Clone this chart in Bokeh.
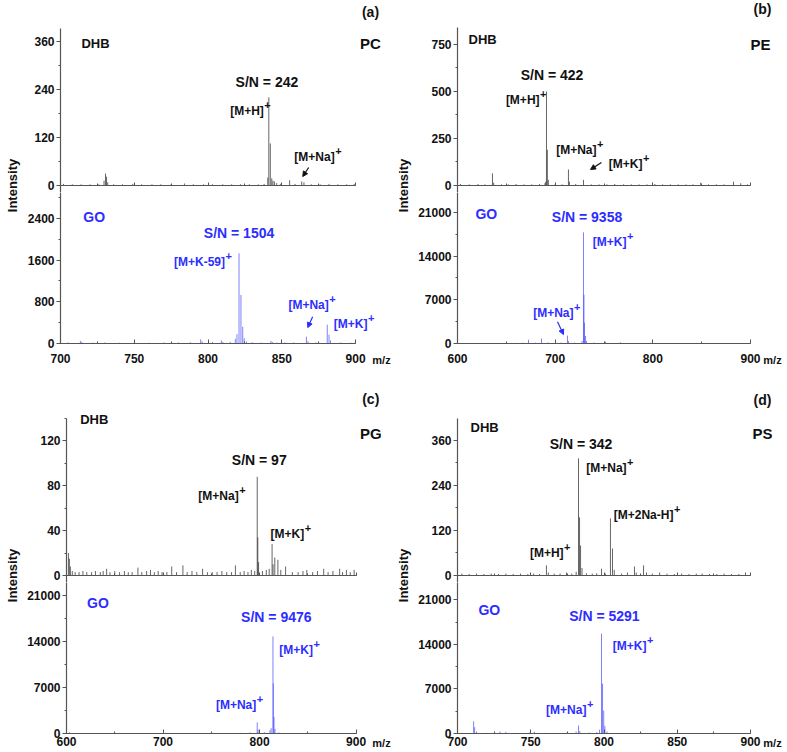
from bokeh.plotting import figure
from bokeh.layouts import row, column
from bokeh.models import (Range1d, SingleIntervalTicker, Label, Arrow, NormalHead,
                          ColumnDataSource, CustomJSTickFormatter)
from bokeh.embed import file_html
from bokeh.resources import INLINE

# ---------------- data ----------------
# Panel (a) PC
a_dhb_mz = [702, 708, 714, 720, 726, 729.5, 730.5, 731.2, 732, 736, 742, 749, 755, 762, 768, 775,
            784, 790, 797, 803, 810, 816, 822, 828, 834, 838, 840.5, 841.2, 842.2, 843.2, 844, 845,
            846.5, 849, 855.3, 859, 863.5, 865, 870, 876, 882, 888, 894, 899]
a_dhb_int = [4, 3, 3, 3, 3, 12, 30, 22, 8, 3, 3, 4, 3, 3, 3, 3,
             5, 3, 3, 3, 3, 3, 3, 3, 3, 4, 20, 220, 105, 18, 12, 10,
             6, 4, 13, 4, 10, 8, 3, 3, 4, 3, 3, 4]
a_go_mz = [705, 713.5, 714.5, 722, 730, 740, 750, 760, 770, 780, 788, 795, 796, 803, 809, 810,
           815, 818.5, 819.6, 821, 822.3, 823.5, 824.5, 826, 830, 836, 842.6, 843.6, 846.7, 852,
           858, 866.7, 867.7, 873, 880.8, 882, 883, 890, 897]
a_go_int = [20, 50, 30, 20, 20, 15, 15, 15, 20, 20, 25, 80, 40, 30, 60, 30,
            30, 90, 180, 1730, 930, 320, 100, 40, 25, 20, 50, 30, 20, 20,
            20, 130, 40, 20, 360, 170, 60, 20, 15]

# Panel (b) PE
b_dhb_mz = [603, 612, 621, 628, 635.8, 637, 645, 652, 660, 668, 676, 684, 689.5, 690.3, 691.1, 692,
            693, 700, 707, 713.6, 714.6, 721, 729, 737, 745, 753, 761, 770, 778, 786, 794, 802,
            810, 818, 826, 834, 841, 849, 857, 865, 873, 882.6, 890, 897]
b_dhb_int = [8, 6, 8, 6, 65, 15, 6, 6, 8, 6, 6, 8, 12, 20, 500, 190,
             30, 6, 6, 85, 20, 8, 30, 6, 6, 6, 8, 6, 6, 6, 6, 8,
             6, 6, 6, 6, 6, 15, 6, 6, 6, 20, 12, 6]
b_go_mz = [606, 620, 635, 650, 660, 667, 672.7, 680, 686, 693, 700, 706, 712.6, 713.6, 720, 727.5,
           729, 729.5, 730, 731, 732, 740, 751.5, 760, 767, 780, 795, 810, 830, 850, 870, 890]
b_go_int = [60, 60, 60, 80, 100, 150, 600, 150, 800, 150, 100, 150, 1270, 400, 150, 400,
            17800, 7800, 3340, 1200, 400, 150, 300, 100, 200, 80, 60, 60, 60, 60, 60, 60]

# Panel (c) PG
c_dhb_mz = [602, 603, 604, 606, 609, 613, 617, 621, 626, 630, 635, 638, 641.6, 645, 650, 655,
            660, 664, 668, 674, 678, 683, 687, 691, 695, 699, 704, 709, 714, 720.6, 725, 730,
            735, 741, 746, 751, 756, 761, 766, 771, 775, 780, 784, 788, 791.5, 795, 797.6, 798.2,
            799, 803, 807, 810, 813, 814, 815.8, 819, 822, 827, 834, 840, 845, 849, 855, 860,
            866.5, 871, 876, 883, 886, 890, 894, 898]
c_dhb_int = [20, 15, 8, 4, 3, 3, 4, 3, 3, 4, 3, 4, 6, 3, 4, 3,
             4, 3, 3, 7, 3, 4, 5, 3, 4, 3, 3, 8, 3, 9, 3, 4,
             3, 6, 3, 3, 3, 4, 3, 3, 9, 3, 4, 3, 5, 4, 88, 34,
             12, 4, 5, 6, 28, 10, 16, 14, 5, 8, 3, 3, 4, 5, 3, 4,
             6, 3, 4, 6, 3, 5, 3, 5]
c_go_mz = [603, 615, 640, 660, 680, 700, 720, 740, 760, 780, 790, 797.6, 798.5, 805, 810.8, 812,
           813.9, 814.3, 815, 816, 820, 830, 850, 870, 890]
c_go_int = [200, 60, 60, 60, 60, 60, 60, 60, 80, 100, 150, 1670, 600, 200, 500, 800,
            14750, 7600, 2500, 700, 150, 80, 60, 60, 60]

# Panel (d) PS
d_dhb_mz = [703, 708, 713, 718, 723, 728, 733, 738, 743, 748, 752, 756, 760.7, 762, 766, 770,
            774.4, 778, 781, 782.6, 783.3, 784, 785, 788, 792, 795, 798.3, 801, 804.4, 805.8, 807, 812,
            816, 820.8, 822, 827, 829, 833, 838, 843, 848, 853, 858, 863, 867, 872, 877, 882,
            887, 892, 896.6]
d_dhb_int = [5, 4, 5, 4, 5, 4, 5, 4, 5, 4, 5, 4, 27, 8, 5, 5,
             8, 5, 10, 312, 155, 80, 20, 6, 5, 6, 18, 5, 152, 72, 15, 5,
             8, 24, 8, 27, 8, 5, 8, 5, 4, 5, 4, 5, 5, 4, 4, 5,
             4, 4, 8]
d_go_mz = [703, 711, 711.7, 713, 720, 729, 733, 740, 749, 752.5, 760, 770, 775, 781, 782.6, 783.5,
           790, 795, 796.9, 798.3, 799, 799.8, 800.6, 802, 810, 820, 840, 860, 880, 898]
d_go_int = [100, 1900, 1000, 300, 100, 300, 250, 100, 150, 300, 100, 100, 150, 300, 1250, 400,
            150, 200, 600, 15700, 7850, 3600, 1200, 300, 100, 80, 60, 60, 60, 60]

# axis extents / tick intervals
a_x = (700, 900); a_xstep = 50; a_top_y = 392; a_top_step = 120; a_bot_y = 3030; a_bot_step = 800
b_x = (600, 900); b_xstep = 100; b_top_y = 840; b_top_step = 250; b_bot_y = 25300; b_bot_step = 7000
c_x = (600, 900); c_xstep = 100; c_top_y = 140; c_top_step = 40; c_bot_y = 24000; c_bot_step = 7000
d_x = (700, 900); d_xstep = 50; d_top_y = 418; d_top_step = 120; d_bot_y = 24850; d_bot_step = 7000

# ---------------- style / layout ----------------
FONT = "Liberation Sans"
BLACK = "#111111"
BLUE = "#2d2dff"
AXIS = "#555555"

# left column: y axis at 59 px, x axis drawn over 296 px, figure 24..393
# right column: y axis at 457 px, x axis drawn over 293 px, figure 413..787
LW, LMBL, LAXPX, LMBR = 369, 35, 296, 12
RW, RMBL, RAXPX, RMBR = 374, 44, 293, 15
GAP = 7  # px of the upper figure kept below its zero line (room for the "0" tick label)


def style_axes(p, xr, xstep, ystep):
    p.grid.visible = False
    p.outline_line_color = None
    p.background_fill_color = "white"
    p.border_fill_color = "white"
    p.xaxis.bounds = xr
    p.xaxis.ticker = SingleIntervalTicker(interval=xstep, num_minor_ticks=2)
    p.yaxis.ticker = SingleIntervalTicker(interval=ystep, num_minor_ticks=2)
    for ax in (p.xaxis, p.yaxis):
        ax.axis_line_color = AXIS
        ax.axis_line_width = 1.2
        ax.major_tick_line_color = AXIS
        ax.minor_tick_line_color = AXIS
        ax.major_label_text_font = FONT
        ax.major_label_text_font_style = "bold"
        ax.major_label_text_font_size = "12px"
        ax.major_label_text_color = BLACK
    p.yaxis.major_tick_out = 4
    p.yaxis.major_tick_in = 0
    p.yaxis.minor_tick_out = 2
    p.yaxis.minor_tick_in = 0
    p.yaxis.major_label_standoff = 2
    p.xaxis.major_tick_out = 0
    p.xaxis.minor_tick_out = 0


def top_fig(w, h, mbl, mbr, ax_w, xr, xstep, ytop, ystep, y_span):
    # upper spectrum: its x axis sits at intensity 0, GAP px above the figure bottom
    x_per_px = (xr[1] - xr[0]) / ax_w
    y_per_px = ytop / y_span
    y0 = -GAP * y_per_px
    p = figure(width=w, height=h, x_range=Range1d(xr[0], xr[0] + (w - mbl - mbr) * x_per_px),
               y_range=Range1d(y0, (h - GAP) * y_per_px),
               toolbar_location=None, output_backend="svg",
               min_border_left=mbl, min_border_right=mbr, min_border_top=0, min_border_bottom=0)
    style_axes(p, xr, xstep, ystep)
    p.yaxis.bounds = (y0, ytop)
    p.xaxis.fixed_location = 0
    p.xaxis.major_tick_in = 3
    p.xaxis.minor_tick_in = 2
    p.xaxis.formatter = CustomJSTickFormatter(code="return ''")
    p.xaxis.major_label_standoff = 0
    return p


def bot_fig(w, h, mbl, mbr, ax_w, xr, xstep, ytop, ystep, y_span, mbb, standoff):
    x_per_px = (xr[1] - xr[0]) / ax_w
    frame_h = h - mbb
    p = figure(width=w, height=h, x_range=Range1d(xr[0], xr[0] + (w - mbl - mbr) * x_per_px),
               y_range=Range1d(0, ytop * frame_h / y_span),
               toolbar_location=None, output_backend="svg",
               min_border_left=mbl, min_border_right=mbr, min_border_top=0, min_border_bottom=mbb)
    style_axes(p, xr, xstep, ystep)
    p.xaxis.major_tick_in = 4
    p.xaxis.minor_tick_in = 2
    p.xaxis.major_label_standoff = standoff
    p.xaxis.axis_label = "m/z"
    p.xaxis.axis_label_align = "end"
    p.xaxis.axis_label_standoff = -12
    p.xaxis.axis_label_text_font = FONT
    p.xaxis.axis_label_text_font_style = "bold"
    p.xaxis.axis_label_text_font_size = "11px"
    p.xaxis.axis_label_text_color = BLACK
    return p


def spectrum(p, mz, inten, color, alpha):
    src = ColumnDataSource(dict(mz=mz, inten=inten))
    p.segment(x0="mz", y0=0, x1="mz", y1="inten", source=src, line_color=color,
              line_alpha=alpha, line_width=1)


def txt(p, x, y, s, color=BLACK, size="12px", align="center"):
    p.add_layout(Label(x=x, y=y, text=s, text_font=FONT, text_font_style="bold",
                       text_font_size=size, text_color=color, text_align=align,
                       text_baseline="middle"))


def ion(p, x, y, s, color=BLACK):
    txt(p, x, y, s, color, "12px", "right")
    p.add_layout(Label(x=x, y=y, text="+", text_font=FONT, text_font_style="bold",
                       text_font_size="11px", text_color=color, text_align="left",
                       text_baseline="middle", x_offset=0.5, y_offset=6))


def arrow(p, x0, y0, x1, y1, color=BLACK):
    p.add_layout(Arrow(end=NormalHead(size=5, fill_color=color, line_color=color),
                       x_start=x0, y_start=y0, x_end=x1, y_end=y1,
                       line_color=color, line_width=1.2))


def intensity_fig(w, h, xc, yc):
    f = figure(width=w, height=h, x_range=Range1d(0, w), y_range=Range1d(0, h),
               toolbar_location=None, output_backend="svg", min_border=0)
    f.axis.visible = False
    f.grid.visible = False
    f.outline_line_color = None
    f.add_layout(Label(x=xc, y=yc, text="Intensity", angle=90, angle_units="deg",
                       text_font=FONT, text_font_style="bold", text_font_size="13px",
                       text_color=BLACK, text_align="center", text_baseline="middle"))
    return f


# ---- panel (a) ----
at = top_fig(LW, 185 + GAP, LMBL, LMBR, LAXPX, a_x, a_xstep, a_top_y, a_top_step, 157)
spectrum(at, a_dhb_mz, a_dhb_int, "#333333", 0.75)
txt(at, 714.2, 355, "DHB", BLACK, "13px", "left")
txt(at, 839.9, 257.5, "S/N = 242", BLACK, "14px")
ion(at, 837.8, 187, "[M+H]")
ion(at, 885.8, 70, "[M+Na]")
arrow(at, 868.2, 45, 864.2, 22.5)
txt(at, 910.1, 355, "PC", BLACK, "15px")
txt(at, 910.1, 432, "(a)", BLACK, "14px")

ab = bot_fig(LW, 183 - GAP, LMBL, LMBR, LAXPX, a_x, a_xstep, a_bot_y, a_bot_step, 159, 24, 10)
spectrum(ab, a_go_mz, a_go_int, "#4a4aff", 0.7)
txt(ab, 715.5, 2419, "GO", BLUE, "14px", "left")
txt(ab, 821, 2115, "S/N = 1504", BLUE, "14px")
ion(ab, 811.5, 1562, "[M+K-59]", BLUE)
ion(ab, 881.8, 743, "[M+Na]", BLUE)
arrow(ab, 870.9, 514, 867.6, 305, BLUE)
ion(ab, 908.1, 381, "[M+K]", BLUE)

# ---- panel (b) ----
bt = top_fig(RW, 185 + GAP, RMBL, RMBR, RAXPX, b_x, b_xstep, b_top_y, b_top_step, 158)
spectrum(bt, b_dhb_mz, b_dhb_int, "#333333", 0.75)
txt(bt, 611.3, 777, "DHB", BLACK, "13px", "left")
txt(bt, 696.8, 585, "S/N = 422", BLACK, "14px")
ion(bt, 684, 457, "[M+H]")
ion(bt, 742.3, 191, "[M+Na]")
ion(bt, 789.4, 112, "[M+K]")
arrow(bt, 747.4, 122, 736.2, 85)
txt(bt, 910.2, 750, "PE", BLACK, "15px")
txt(bt, 912.3, 936, "(b)", BLACK, "14px")

bb = bot_fig(RW, 183 - GAP, RMBL, RMBR, RAXPX, b_x, b_xstep, b_bot_y, b_bot_step, 159, 24, 10)
spectrum(bb, b_go_mz, b_go_int, "#4a4aff", 0.7)
txt(bb, 618.4, 20670, "GO", BLUE, "14px", "left")
txt(bb, 732.6, 20190, "S/N = 9358", BLUE, "14px")
ion(bb, 773, 16220, "[M+K]", BLUE)
ion(bb, 718.8, 4930, "[M+Na]", BLUE)
arrow(bb, 702.4, 3500, 708.5, 1430, BLUE)

# ---- panel (c) ----
ct = top_fig(LW, 207 + GAP, LMBL, LMBR, LAXPX, c_x, c_xstep, c_top_y, c_top_step, 157)
spectrum(ct, c_dhb_mz, c_dhb_int, "#333333", 0.75)
txt(ct, 614.2, 139, "DHB", BLACK, "13px", "left")
txt(ct, 799.7, 103, "S/N = 97", BLACK, "14px")
ion(ct, 778.4, 71, "[M+Na]")
ion(ct, 846.3, 37.3, "[M+K]")
txt(ct, 915.2, 127, "PG", BLACK, "15px")
txt(ct, 915.2, 157, "(c)", BLACK, "14px")

cb = bot_fig(LW, 177 - GAP, LMBL, LMBR, LAXPX, c_x, c_xstep, c_bot_y, c_bot_step, 158, 19, 3)
spectrum(cb, c_go_mz, c_go_int, "#4a4aff", 0.7)
txt(cb, 621.3, 19760, "GO", BLUE, "14px", "left")
txt(cb, 817.4, 17630, "S/N = 9476", BLUE, "14px")
ion(cb, 855.4, 12620, "[M+K]", BLUE)
ion(cb, 796.6, 4400, "[M+Na]", BLUE)

# ---- panel (d) ----
dt = top_fig(RW, 207 + GAP, RMBL, RMBR, RAXPX, d_x, d_xstep, d_top_y, d_top_step, 157)
spectrum(dt, d_dhb_mz, d_dhb_int, "#333333", 0.75)
txt(dt, 708.9, 395, "DHB", BLACK, "13px", "left")
txt(dt, 784.3, 349, "S/N = 342", BLACK, "14px")
ion(dt, 815.4, 285, "[M+Na]")
ion(dt, 847.4, 160, "[M+2Na-H]")
ion(dt, 772.4, 58.7, "[M+H]")
txt(dt, 908.2, 378.7, "PS", BLACK, "15px")
txt(dt, 908.2, 466.7, "(d)", BLACK, "14px")

db = bot_fig(RW, 177 - GAP, RMBL, RMBR, RAXPX, d_x, d_xstep, d_bot_y, d_bot_step, 158, 19, 3)
spectrum(db, d_go_mz, d_go_int, "#4a4aff", 0.7)
txt(db, 714.3, 19470, "GO", BLUE, "14px", "left")
txt(db, 800.3, 18530, "S/N = 5291", BLUE, "14px")
ion(db, 829, 13820, "[M+K]", BLUE)
ion(db, 788, 3770, "[M+Na]", BLUE)

layout = column(
    row(intensity_fig(24, 368, 12, 183), column(at, ab), intensity_fig(20, 368, 10, 183), column(bt, bb)),
    row(intensity_fig(24, 384, 12, 177), column(ct, cb), intensity_fig(20, 384, 10, 177), column(dt, db)),
)

open("out.html", "w").write(file_html(layout, INLINE))
